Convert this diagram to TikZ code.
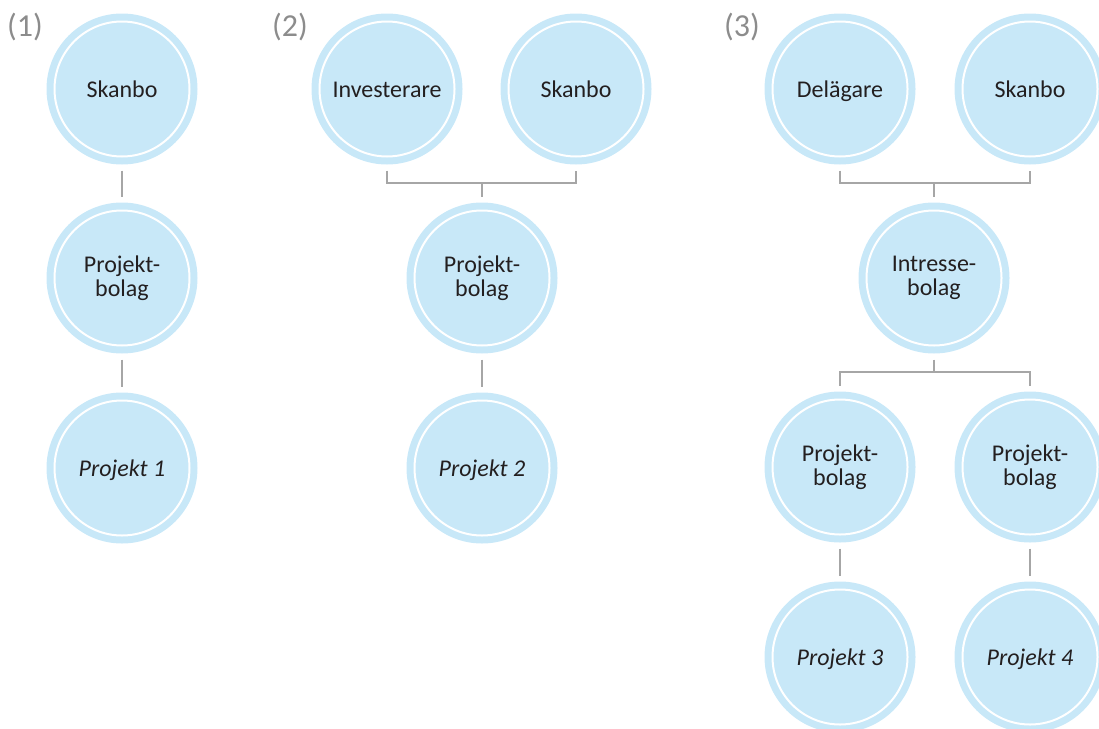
\documentclass[tikz,border=0pt]{standalone}
\usepackage{fontspec}
\setmainfont{Carlito}
\definecolor{cblue}{HTML}{C8E8F8}
\definecolor{cline}{HTML}{A6A6A6}
\definecolor{ctext}{HTML}{231F20}
\definecolor{clabel}{HTML}{8C8C8C}
\begin{document}
\begin{tikzpicture}[x=1pt,y=-1pt,
  entity/.style={circle, fill=cblue, minimum size=151pt, inner sep=0pt, outer sep=6pt,
    text=ctext, align=center, font=\fontsize{24}{24}\selectfont,
    path picture={\draw[white, line width=2pt] (path picture bounding box.center) circle (67.5pt);}},
  single/.style={entity, text height=17pt, text depth=1pt},
  proj/.style={single, font=\fontsize{24}{24}\selectfont\itshape},
  conn/.style={draw=cline, line width=1.3pt},
  caption/.style={text=clabel, font=\fontsize{32}{32}\selectfont, inner sep=0pt}]
\useasboundingbox (0,0) rectangle (1099,728);
\clip (0,0) rectangle (1099,728);
% labels
\node[caption] (l1) at (25,27) {(1)};
\node[caption] (l2) at (290,27) {(2)};
\node[caption] (l3) at (742,27) {(3)};
% column 1
\node[single] (s1) at (122,89) {Skanbo};
\node[entity] (pb1) at (122,278) {Projekt-\\bolag};
\node[proj] (p1) at (122,468) {Projekt 1};
\draw[conn] (s1.south) -- (pb1.north);
\draw[conn] (pb1.south) -- (p1.north);
% column 2
\node[single] (i2) at (387,89) {Investerare};
\node[single] (s2) at (576,89) {Skanbo};
\node[entity] (pb2) at (482,278) {Projekt-\\bolag};
\node[proj] (p2) at (482,468) {Projekt 2};
\coordinate (b2) at (482,183);
\draw[conn] (i2.south) |- (b2) -| (s2.south);
\draw[conn] (b2) -- (pb2.north);
\draw[conn] (pb2.south) -- (p2.north);
% column 3
\node[single] (d3) at (840,89) {Delägare};
\node[single] (s3) at (1030,89) {Skanbo};
\node[entity] (ib3) at (934,278) {Intresse-\\bolag};
\node[entity] (pa3) at (840,467) {Projekt-\\bolag};
\node[entity] (pb3) at (1030,467) {Projekt-\\bolag};
\node[proj] (p3) at (840,657) {Projekt 3};
\node[proj] (p4) at (1030,657) {Projekt 4};
\coordinate (b3) at (934,183);
\coordinate (c3) at (934,372);
\draw[conn] (d3.south) |- (b3) -| (s3.south);
\draw[conn] (b3) -- (ib3.north);
\draw[conn] (ib3.south) -- (c3);
\draw[conn] (pa3.north) |- (c3) -| (pb3.north);
\draw[conn] (pa3.south) -- (p3.north);
\draw[conn] (pb3.south) -- (p4.north);
\end{tikzpicture}
\end{document}
